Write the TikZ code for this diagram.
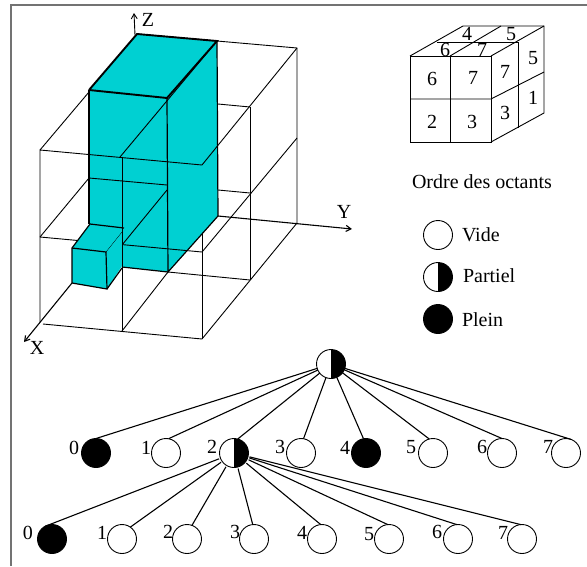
\documentclass[tikz,border=0pt]{standalone}
\usepackage{fontspec}
\usetikzlibrary{arrows.meta}
\setmainfont{Liberation Serif}
\begin{document}
\begin{tikzpicture}[x=1pt,y=-1pt,
  thin line/.style={line width=0.9pt},
  mid line/.style={line width=1.2pt},
  bold line/.style={line width=1.9pt},
  solid face/.style={fill=cyanface},
  frame line/.style={line width=1.1pt,draw=black!55},
  lbl/.style={inner sep=0pt,outer sep=0pt,font=\fontsize{20}{22}\selectfont},
  leaf/.style={circle,draw=black,line width=0.9pt,minimum size=29pt,inner sep=0pt,outer sep=0pt},
  vide/.style={leaf,fill=white},
  plein/.style={leaf,fill=black},
  partiel/.style={leaf,fill=white,path picture={\fill[black] (path picture bounding box.south) rectangle (path picture bounding box.north east);}},
  edge line/.style={line width=1.1pt},
  arrow line/.style={line width=0.9pt,-{Straight Barb[length=5pt,width=6pt]}}]
\definecolor{cyanface}{HTML}{00D0D2}
\useasboundingbox (0,0) rectangle (587,566);
\fill[white] (0,0) rectangle (587,566);
\draw[frame line] (11,566) -- (11,5) -- (587,5);
% outer grid behind the solid
\draw[thin line] (137,34) -- (297,48) -- (297,223);
\draw[thin line] (250,107) -- (250,280);
\draw[thin line] (218,104) -- (250,107);
\draw[thin line] (218,190) -- (250,193);
\draw[thin line] (297,138) -- (202,252);
\draw[thin line] (297,223) -- (202,339);
\draw[thin line] (168,272) -- (250,280);
\draw[thin line] (202,233) -- (202,339);
\draw[thin line] (43,324) -- (202,339);
\draw[thin line] (168,272) -- (122,331);
% big solid
\fill[solid face] (137,34) -- (217,41) -- (218,216) -- (168,272) -- (122,267) -- (122,240) -- (89,240) -- (89,90) -- cycle;
% grid over the solid
\draw[thin line] (297,48) -- (202,165);
\draw[thin line] (40,322) -- (40,150) -- (202,165);
\draw[thin line] (40,150) -- (89,92);
\draw[thin line] (217,41) -- (120,157);
\draw[thin line] (122,158) -- (122,331);
\draw[thin line] (40,237) -- (202,252);
\draw[thin line] (40,237) -- (89,178) -- (167,185);
\draw[thin line] (122,245) -- (167,190);
% solid edges
\draw[mid line] (89,224) -- (89,90);
\draw[mid line] (167,98) -- (168,272) -- (218,216) -- (217,41);
\draw[mid line] (122,267) -- (168,272);
\draw[bold line] (89,90) -- (137,34) -- (217,41) -- (167,98) -- (89,90);
% small cube
\fill[solid face] (72,248) -- (90,224) -- (122,228) -- (122,266) -- (107,289) -- (72,283) -- cycle;
\draw[mid line] (72,283) -- (72,248) -- (90,224) -- (124,228);
\draw[mid line] (72,248) -- (106,252) -- (107,289) -- (72,283);
\draw[mid line] (107,289) -- (122,268);
\draw[thin line] (122,228) -- (122,268);
\draw[line width=0.3pt] (106,252) -- (122,232);
% axes
\coordinate (zbase) at (135,35);
\coordinate (ztip) at (134,13);
\coordinate (xbase) at (72,283);
\coordinate (xtip) at (24,342);
\coordinate (ybase) at (218,216);
\coordinate (ytip) at (352,229);
\draw[arrow line] (zbase) -- (ztip);
\draw[arrow line,line width=1.1pt] (xbase) -- (xtip);
\draw[arrow line,line width=1.1pt] (ybase) -- (ytip);
\node[lbl] (zlabel) at (148,20) {Z};
\node[lbl] (ylabel) at (344,212) {Y};
\node[lbl] (xlabel) at (37,348) {X};
% octant cube
\draw[thin line] (410,56) rectangle (491,142);
\draw[thin line] (450,56) -- (450,142);
\draw[thin line] (410,99) -- (491,99) -- (544,72);
\draw[thin line] (410,56) -- (463,26) -- (544,26) -- (544,113) -- (491,142);
\draw[thin line] (491,56) -- (544,26);
\draw[thin line] (450,56) -- (501,26);
\draw[thin line] (437,42) -- (518,42) -- (518,128);
\node[lbl] (t4) at (467,34) {4};
\node[lbl] (t5) at (511,34) {5};
\node[lbl] (t6) at (445,50) {6};
\node[lbl] (t7) at (482,50) {7};
\node[lbl] (f6) at (432,79) {6};
\node[lbl] (f7) at (473,78) {7};
\node[lbl] (f2) at (432,122) {2};
\node[lbl] (f3) at (472,122) {3};
\node[lbl] (s7) at (505,72) {7};
\node[lbl] (s3) at (505,113) {3};
\node[lbl] (s5) at (533,58) {5};
\node[lbl] (s1) at (533,98) {1};
\node[lbl,anchor=west] (ordre) at (412,182) {Ordre des octants};
% legend
\node[vide] (lv) at (438,235) {};
\node[partiel] (lp) at (438,277) {};
\node[plein] (lf) at (438,319) {};
\node[lbl,anchor=west] (tv) at (462,235) {Vide};
\node[lbl,anchor=west] (tp) at (463,276) {Partiel};
\node[lbl,anchor=west] (tf) at (462,320) {Plein};
% tree
\node[partiel] (root) at (331,364) {};
\node[plein]   (a0) at (96,453) {};
\node[vide]    (a1) at (166,453) {};
\node[partiel] (a2) at (234,453) {};
\node[vide]    (a3) at (301,453) {};
\node[plein]   (a4) at (366,453) {};
\node[vide]    (a5) at (433,453) {};
\node[vide]    (a6) at (502,453) {};
\node[vide]    (a7) at (566,453) {};
\node[plein]   (b0) at (52,539) {};
\node[vide]    (b1) at (122,539) {};
\node[vide]    (b2) at (187,539) {};
\node[vide]    (b3) at (254,539) {};
\node[vide]    (b4) at (322,539) {};
\node[vide]    (b5) at (389,539) {};
\node[vide]    (b6) at (458,539) {};
\node[vide]    (b7) at (522,539) {};
\foreach \n/\lx/\ly in {0/74/448,1/146/448,2/212/447,3/280/447,4/345/448,5/411/447,6/482/447,7/548/447}
  \node[lbl] (la\n) at (\lx,\ly) {\n};
\foreach \n/\lx/\ly in {0/28/533,1/102/533,2/168/532,3/235/532,4/302/533,5/369/534,6/437/532,7/503/533}
  \node[lbl] (lb\n) at (\lx,\ly) {\n};
\foreach \t/\an in {a0/90,a1/80,a2/75,a3/80,a4/100,a5/105,a6/90,a7/70}
  \draw[edge line] (root) -- (\t.\an);
\foreach \t/\an in {b0/120,b1/55,b2/70,b3/95,b4/95,b5/95,b6/95,b7/95}
  \draw[edge line,shorten <=1.5pt] (a2) -- (\t.\an);
\end{tikzpicture}
\end{document}
